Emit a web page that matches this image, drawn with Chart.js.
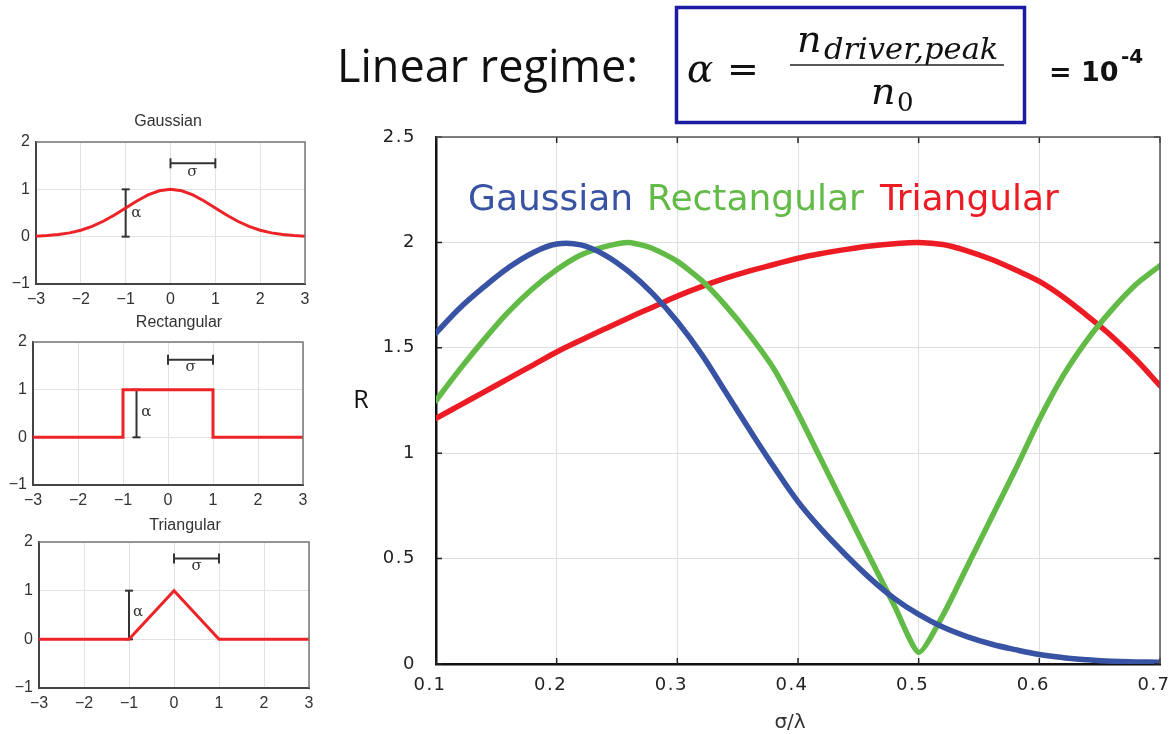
<!DOCTYPE html>
<html>
<head>
<meta charset="utf-8">
<script src="https://cdn.jsdelivr.net/npm/chart.js@4.4.1/dist/chart.umd.min.js"></script>
<style>
html,body{margin:0;padding:0;background:#fff}
#wrap{position:relative;width:1176px;height:734px;overflow:hidden;background:#fff}
canvas{position:absolute}
svg{position:absolute;left:0;top:0}
</style>
</head>
<body>
<div id="wrap">
<canvas id="cMain"></canvas>
<canvas id="cGauss"></canvas>
<canvas id="cRect"></canvas>
<canvas id="cTri"></canvas>
<svg width="1176" height="130" xmlns="http://www.w3.org/2000/svg">
  <text x="337" y="82" font-family="Open Sans" font-size="45" fill="#111">Linear regime:</text>
  <rect x="676.5" y="7.5" width="348" height="115" fill="none" stroke="#1b1ba3" stroke-width="3.5"/>
  <text x="687" y="82" font-family="DejaVu Serif" font-style="italic" font-size="39" fill="#111">α</text>
  <text x="727" y="82" font-family="DejaVu Serif" font-size="38" fill="#111">=</text>
  <text x="797" y="52" font-family="DejaVu Serif" font-style="italic" font-size="38" fill="#111">n</text>
  <text x="824" y="59" font-family="DejaVu Serif" font-style="italic" font-size="30.5" fill="#111">driver,peak</text>
  <line x1="790" y1="65" x2="1004" y2="65" stroke="#222" stroke-width="1.5"/>
  <text x="871" y="104" font-family="DejaVu Serif" font-style="italic" font-size="38" fill="#111">n</text>
  <text x="897" y="111" font-family="DejaVu Serif" font-size="26" fill="#111">0</text>
  <text x="1049" y="81" font-family="DejaVu Sans" font-weight="bold" font-size="27" fill="#111">= 10</text>
  <text x="1121" y="63" font-family="DejaVu Sans" font-weight="bold" font-size="20" fill="#111">-4</text>
</svg>
</div>
<script>
// ---------- main chart data ----------
const xValues = [0.10,0.12,0.14,0.16,0.18,0.20,0.22,0.24,0.26,0.28,0.30,0.32,0.34,0.36,0.38,0.40,0.42,0.44,0.46,0.48,0.50,0.52,0.54,0.56,0.58,0.60,0.62,0.64,0.66,0.68,0.70];
const gaussianR = [1.57,1.69,1.79,1.88,1.95,1.992,1.988,1.94,1.86,1.755,1.625,1.47,1.29,1.11,0.935,0.77,0.635,0.515,0.405,0.31,0.235,0.175,0.13,0.095,0.068,0.045,0.03,0.02,0.013,0.01,0.008];
const rectangularR = [1.25,1.40,1.54,1.67,1.78,1.87,1.94,1.98,2.00,1.97,1.91,1.82,1.70,1.56,1.40,1.19,0.96,0.73,0.50,0.275,0.055,0.23,0.46,0.69,0.92,1.16,1.37,1.54,1.68,1.80,1.89];
const triangularR = [1.165,1.228,1.291,1.354,1.417,1.48,1.536,1.59,1.643,1.694,1.745,1.79,1.83,1.865,1.895,1.925,1.948,1.967,1.983,1.994,2.00,1.99,1.96,1.92,1.87,1.815,1.74,1.65,1.555,1.445,1.32];
const mainXTicks = [0.1,0.2,0.3,0.4,0.5,0.6,0.7];
const mainXTickLabels = ['0.1','0.2','0.3','0.4','0.5','0.6','0.7'];
const mainYTicks = [0,0.5,1,1.5,2,2.5];
const mainYTickLabels = ['0','0.5','1','1.5','2','2.5'];
const seriesNames = ['Gaussian','Rectangular','Triangular'];

// ---------- pulse shape data (small charts) ----------
const gaussShapeX = [-3,-2.75,-2.5,-2.25,-2,-1.75,-1.5,-1.25,-1,-0.75,-0.5,-0.25,0,0.25,0.5,0.75,1,1.25,1.5,1.75,2,2.25,2.5,2.75,3];
const gaussShapeY = [0.011,0.023,0.044,0.080,0.135,0.216,0.325,0.458,0.607,0.755,0.882,0.969,1,0.969,0.882,0.755,0.607,0.458,0.325,0.216,0.135,0.080,0.044,0.023,0.011];
const rectShapeX = [-3,-1,-1,1,1,3];
const rectShapeY = [0,0,1,1,0,0];
const triShapeX = [-3,-1,0,1,3];
const triShapeY = [0,0,1,0,0];
const shapeXTicks = [-3,-2,-1,0,1,2,3];
const shapeXTickLabels = ['−3','−2','−1','0','1','2','3'];
const shapeYTicks = [-1,0,1,2];
const shapeYTickLabels = ['−1','0','1','2'];

const BLUE = '#3953a4', GREEN = '#62bb46', RED = '#ed1c24', SHAPE_RED = '#ee2328';

const pts = (xs, ys) => xs.map((x, i) => ({x, y: ys[i]}));

const framePlugin = {
  id: 'frame',
  beforeDraw(chart, args, o) {
    if (o.letterSpacing) chart.ctx.letterSpacing = o.letterSpacing;
  },
  afterDatasetsDraw(chart, args, o) {
    const {ctx, chartArea: a, scales: {x, y}} = chart;
    ctx.save();
    ctx.letterSpacing = '0px';
    if (o.tickLen) {
      ctx.strokeStyle = o.tickColor; ctx.lineWidth = 1.5;
      ctx.beginPath();
      x.ticks.forEach(t => { const p = x.getPixelForValue(t.value);
        ctx.moveTo(p, a.bottom); ctx.lineTo(p, a.bottom - o.tickLen);
        ctx.moveTo(p, a.top); ctx.lineTo(p, a.top + o.tickLen); });
      y.ticks.forEach(t => { const p = y.getPixelForValue(t.value);
        ctx.moveTo(a.left, p); ctx.lineTo(a.left + o.tickLen, p);
        ctx.moveTo(a.right, p); ctx.lineTo(a.right - o.tickLen, p); });
      ctx.stroke();
    }
    ctx.strokeStyle = o.boxColor; ctx.lineWidth = o.boxWidth;
    ctx.beginPath();
    ctx.moveTo(a.left, a.top); ctx.lineTo(a.right, a.top); ctx.lineTo(a.right, a.bottom);
    ctx.stroke();
    (o.texts || []).forEach(t => {
      ctx.font = t.font; ctx.fillStyle = t.color;
      ctx.letterSpacing = t.spacing || '0px';
      ctx.textAlign = t.align || 'left'; ctx.textBaseline = t.baseline || 'alphabetic';
      const px = t.dx !== undefined ? x.getPixelForValue(t.dx) : t.px;
      const py = t.dy !== undefined ? y.getPixelForValue(t.dy) : t.py;
      ctx.fillText(t.text, px, py);
    });
    ctx.restore();
  }
};

function makeChart(id, box, area, datasets, o) {
  const cv = document.getElementById(id);
  cv.width = box.w; cv.height = box.h;
  cv.style.left = box.l + 'px'; cv.style.top = box.t + 'px';
  cv.style.width = box.w + 'px'; cv.style.height = box.h + 'px';
  const yW = area.l - box.l, xH = box.t + box.h - area.b;
  return new Chart(cv, {
    type: 'scatter',
    data: {datasets},
    options: {
      responsive: false, animation: false, devicePixelRatio: 1,
      layout: {padding: {left: 0, top: area.t - box.t, right: box.l + box.w - area.r, bottom: 0}},
      plugins: {legend: {display: false}, tooltip: {enabled: false}, frame: o.frame},
      elements: {point: {radius: 0}},
      scales: {
        x: {type: 'linear', min: o.xMin, max: o.xMax,
            afterBuildTicks: s => { s.ticks = o.xTicks.map(v => ({value: v})); },
            afterFit: s => { s.height = xH; },
            ticks: {callback: (v, i) => o.xLabels[i], font: o.tickFont, color: o.tickColor,
                    padding: o.xPad, labelOffset: o.xLabelOffset || 0, maxRotation: 0, autoSkip: false},
            grid: {color: o.gridColor, drawTicks: false},
            border: {display: true, color: o.axisColor, width: o.axisWidth}},
        y: {type: 'linear', min: o.yMin, max: o.yMax,
            afterBuildTicks: s => { s.ticks = o.yTicks.map(v => ({value: v})); },
            afterFit: s => { s.width = yW; },
            ticks: {callback: (v, i) => o.yLabels[i], font: o.tickFont, color: o.tickColor,
                    padding: o.yPad, autoSkip: false},
            grid: {color: o.gridColor, drawTicks: false},
            border: {display: true, color: o.axisColor, width: o.axisWidth}}
      }
    },
    plugins: [framePlugin]
  });
}

// ---------- main chart ----------
const mainBox = {l: 340, t: 96, w: 870, h: 638};
const mainArea = {l: 436, t: 137, r: 1160, b: 664};
const lineDs = (label, ys, color, tension) => ({
  label, data: pts(xValues, ys), showLine: true, borderColor: color, backgroundColor: color,
  borderWidth: 5.5, pointRadius: 0, tension, borderCapStyle: 'round', borderJoinStyle: 'round'
});
makeChart('cMain', mainBox, mainArea, [
  lineDs(seriesNames[0], gaussianR, BLUE, 0.4),
  lineDs(seriesNames[1], rectangularR, GREEN, 0.2),
  lineDs(seriesNames[2], triangularR, RED, 0.4)
], {
  xMin: 0.1, xMax: 0.7, yMin: 0, yMax: 2.5,
  xTicks: mainXTicks, xLabels: mainXTickLabels, yTicks: mainYTicks, yLabels: mainYTickLabels,
  tickFont: {family: 'DejaVu Sans', size: 18}, tickColor: '#222', xPad: 11, yPad: 20, xLabelOffset: -6,
  gridColor: '#dedede', axisColor: '#111', axisWidth: 2.5,
  frame: {
    letterSpacing: '1.5px',
    boxColor: '#555', boxWidth: 1.5, tickLen: 6, tickColor: '#222',
    texts: [
      {text: seriesNames[0], px: 128, py: 114, font: '36px "DejaVu Sans"', color: BLUE},
      {text: seriesNames[1], px: 307, py: 114, font: '36px "DejaVu Sans"', color: GREEN},
      {text: seriesNames[2], px: 540, py: 114, font: '36px "DejaVu Sans"', color: RED},
      {text: 'R', px: 21, py: 305, align: 'center', baseline: 'middle', font: '25px "Open Sans"', color: '#111'},
      {text: 'σ/λ', px: 450, py: 627, align: 'center', baseline: 'middle', font: '20px "DejaVu Sans"', color: '#333'}
    ]
  }
});

// ---------- small pulse-shape charts ----------
function shapeChart(id, box, area, xs, ys, sigmaY, alphaX, title, titlePos, sigmaLbl, alphaLbl) {
  return makeChart(id, box, area, [
    {data: pts(xs, ys), showLine: true, borderColor: SHAPE_RED, borderWidth: 3, pointRadius: 0, tension: 0},
    {data: [{x: 0, y: sigmaY}, {x: 1, y: sigmaY}], showLine: true, borderColor: '#333', borderWidth: 2,
     pointRadius: 5, pointStyle: 'line', rotation: 90, pointBorderColor: '#333', pointBorderWidth: 2},
    {data: [{x: alphaX, y: 0}, {x: alphaX, y: 1}], showLine: true, borderColor: '#333', borderWidth: 2,
     pointRadius: 4, pointStyle: 'line', rotation: 0, pointBorderColor: '#333', pointBorderWidth: 2}
  ], {
    xMin: -3, xMax: 3, yMin: -1, yMax: 2,
    xTicks: shapeXTicks, xLabels: shapeXTickLabels, yTicks: shapeYTicks, yLabels: shapeYTickLabels,
    tickFont: {family: 'Liberation Sans', size: 16}, tickColor: '#333', xPad: 6, yPad: 6,
    gridColor: '#e2e2e2', axisColor: '#444', axisWidth: 2,
    frame: {
      boxColor: '#777', boxWidth: 1.5, tickLen: 0,
      texts: [
        {text: title, px: titlePos[0] - box.l, py: titlePos[1] - box.t, align: 'center', baseline: 'middle', font: '16px "Liberation Sans"', color: '#333'},
        {text: 'σ', dx: sigmaLbl[0], dy: sigmaLbl[1], align: 'center', baseline: 'middle', font: '15px "DejaVu Serif"', color: '#333'},
        {text: 'α', dx: alphaLbl[0], dy: alphaLbl[1], align: 'center', baseline: 'middle', font: '15px "DejaVu Serif"', color: '#333'}
      ]
    }
  });
}
shapeChart('cGauss', {l: 0, t: 110, w: 330, h: 200}, {l: 36, t: 142, r: 305, b: 284},
  gaussShapeX, gaussShapeY, 1.55, -1, seriesNames[0], [168, 122], [0.49, 1.36], [-0.76, 0.5]);
shapeChart('cRect', {l: 0, t: 310, w: 330, h: 200}, {l: 33, t: 342, r: 303, b: 485},
  rectShapeX, rectShapeY, 1.63, -0.7, seriesNames[1], [179, 323], [0.5, 1.48], [-0.48, 0.53]);
shapeChart('cTri', {l: 0, t: 510, w: 330, h: 224}, {l: 39, t: 542, r: 309, b: 688},
  triShapeX, triShapeY, 1.66, -1, seriesNames[2], [185, 526], [0.5, 1.5], [-0.8, 0.55]);
</script>
</body>
</html>
